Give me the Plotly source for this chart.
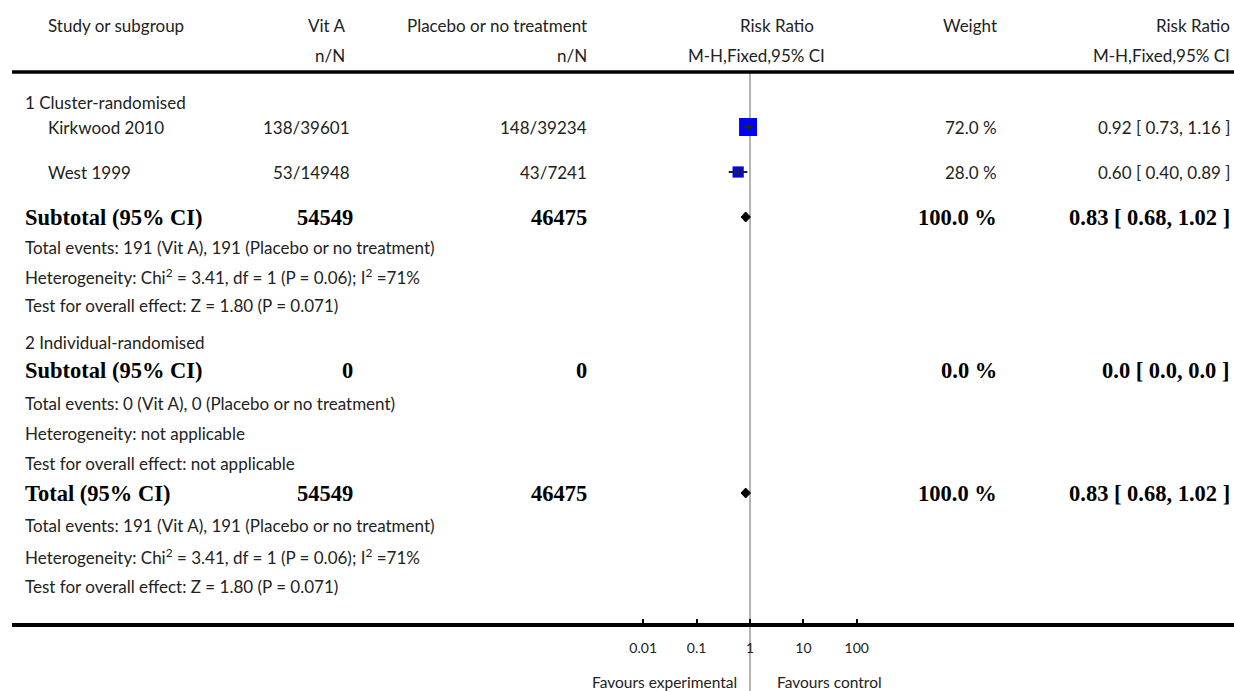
import math
import plotly.graph_objects as go

# ---------------- data ----------------
studies = ["Kirkwood 2010", "West 1999"]
vita_events = [138, 53]
vita_total = [39601, 14948]
ctrl_events = [148, 43]
ctrl_total = [39234, 7241]
study_rr = [0.92, 0.60]
study_lo = [0.73, 0.40]
study_hi = [1.16, 0.89]
study_weight = [72.0, 28.0]

subgroups = ["1 Cluster-randomised", "2 Individual-randomised"]
summary_labels = ["Subtotal (95% CI)", "Subtotal (95% CI)", "Total (95% CI)"]
summary_vita_n = [54549, 0, 54549]
summary_ctrl_n = [46475, 0, 46475]
summary_weight = [100.0, 0.0, 100.0]
summary_rr = [0.83, 0.0, 0.83]
summary_lo = [0.68, 0.0, 0.68]
summary_hi = [1.02, 0.0, 1.02]

notes_sub1 = ["Total events: 191 (Vit A), 191 (Placebo or no treatment)",
              "Heterogeneity: Chi<sup>2</sup> = 3.41, df = 1 (P = 0.06); I<sup>2</sup> =71%",
              "Test for overall effect: Z = 1.80 (P = 0.071)"]
notes_sub2 = ["Total events: 0 (Vit A), 0 (Placebo or no treatment)",
              "Heterogeneity: not applicable",
              "Test for overall effect: not applicable"]
notes_total = ["Total events: 191 (Vit A), 191 (Placebo or no treatment)",
               "Heterogeneity: Chi<sup>2</sup> = 3.41, df = 1 (P = 0.06); I<sup>2</sup> =71%",
               "Test for overall effect: Z = 1.80 (P = 0.071)"]

tick_vals = [0.01, 0.1, 1, 10, 100]
tick_labels = ["0.01", "0.1", "1", "10", "100"]
favours_left = "Favours experimental"
favours_right = "Favours control"

# ---------------- layout constants ----------------
W, H = 1234, 691
SANS = "Lato, 'Open Sans', sans-serif"
SERIF = "'Liberation Serif', 'DejaVu Serif', serif"
TXT = "#222222"
FS = 17
FB = 22.5

Y_HEAD1, Y_HEAD2 = 25, 55
Y_TOPLINE = 72
Y_GROUP = [102, 342]
Y_STUDY = [127, 172]
Y_SUMMARY = [217, 370, 493]
Y_NOTES = [[247, 276, 305], [403, 433, 463], [525, 556, 586]]
Y_AXIS = 625
Y_FAV = 682

X_LEFT_GROUP = 25
X_LEFT_STUDY = 48
X_VITA = 350
X_CTRL = 587
X_WEIGHT = 997
X_RR = 1230

PX_PER_DEC = 53.4
X_ONE = 750
x_lo = -X_ONE / PX_PER_DEC
x_hi = (W - X_ONE) / PX_PER_DEC

fig = go.Figure()
annotations = []


def txt(px, y, text, anchor="left", bold=False, size=None):
    annotations.append(dict(
        x=px / W, xref="paper", y=y, yref="y", text=text, showarrow=False,
        xanchor=anchor, yanchor="middle", borderpad=0, borderwidth=0,
        font=dict(family=SERIF if bold else SANS, size=size or (FB if bold else FS),
                  color="#000000" if bold else TXT, weight="bold" if bold else "normal"),
    ))


# headers
txt(48, Y_HEAD1, "Study or subgroup")
txt(345, Y_HEAD1, "Vit A", "right")
txt(345, Y_HEAD2, "n/N", "right")
txt(587, Y_HEAD1, "Placebo or no treatment", "right")
txt(587, Y_HEAD2, "n/N", "right")
txt(814, Y_HEAD1, "Risk Ratio", "right")
txt(825, Y_HEAD2, "M-H,Fixed,95% CI", "right")
txt(X_WEIGHT, Y_HEAD1, "Weight", "right")
txt(X_RR, Y_HEAD1, "Risk Ratio", "right")
txt(X_RR, Y_HEAD2, "M-H,Fixed,95% CI", "right")

# subgroup headings
for g, y in zip(subgroups, Y_GROUP):
    txt(X_LEFT_GROUP, y, g)

# studies
for i, s in enumerate(studies):
    y = Y_STUDY[i]
    txt(X_LEFT_STUDY, y, s)
    txt(X_VITA, y, f"{vita_events[i]}/{vita_total[i]}", "right")
    txt(X_CTRL, y, f"{ctrl_events[i]}/{ctrl_total[i]}", "right")
    txt(X_WEIGHT, y, f"{study_weight[i]:.1f} %", "right")
    txt(X_RR, y, f"{study_rr[i]:.2f} [ {study_lo[i]:.2f}, {study_hi[i]:.2f} ]", "right")


def fmt_ci(rr, lo, hi):
    if rr == 0:
        return f"{rr:.1f} [ {lo:.1f}, {hi:.1f} ]"
    return f"{rr:.2f} [ {lo:.2f}, {hi:.2f} ]"


# summaries
for i, lab in enumerate(summary_labels):
    y = Y_SUMMARY[i]
    txt(X_LEFT_GROUP, y, lab, bold=True)
    txt(353, y, str(summary_vita_n[i]), "right", bold=True)
    txt(X_CTRL, y, str(summary_ctrl_n[i]), "right", bold=True)
    txt(X_WEIGHT, y, f"{summary_weight[i]:.1f} %", "right", bold=True)
    txt(X_RR, y, fmt_ci(summary_rr[i], summary_lo[i], summary_hi[i]), "right", bold=True)

for notes, ys in zip([notes_sub1, notes_sub2, notes_total], Y_NOTES):
    for n, y in zip(notes, ys):
        txt(X_LEFT_GROUP, y, n)

# favours labels
txt(737, Y_FAV, favours_left, "right", size=15.5)
txt(777, Y_FAV, favours_right, "left", size=15.5)

# squares
sizes = [18 / math.sqrt(72) * math.sqrt(w) for w in study_weight]
fig.add_trace(go.Scatter(
    x=study_rr, y=Y_STUDY, mode="markers",
    marker=dict(symbol="square", size=sizes, color="#0000ff", opacity=1, line=dict(width=0)),
    hoverinfo="skip", showlegend=False))

# CI lines
for i in range(len(studies)):
    fig.add_trace(go.Scatter(
        x=[study_lo[i], study_hi[i]], y=[Y_STUDY[i], Y_STUDY[i]], mode="lines",
        line=dict(color="#222222", width=2), hoverinfo="skip", showlegend=False))
fig.add_trace(go.Scatter(
    x=study_rr, y=Y_STUDY, mode="markers",
    marker=dict(symbol="line-ns", size=6, opacity=1, line=dict(color="#222222", width=2)),
    hoverinfo="skip", showlegend=False))

# diamonds
for i in range(len(summary_labels)):
    if summary_rr[i] <= 0:
        continue
    y = Y_SUMMARY[i]
    fig.add_trace(go.Scatter(
        x=[summary_lo[i], summary_rr[i], summary_hi[i], summary_rr[i], summary_lo[i]],
        y=[y, y - 5, y, y + 5, y], mode="lines", fill="toself",
        fillcolor="#000000", line=dict(color="#000000", width=1),
        hoverinfo="skip", showlegend=False))

shapes = [
    dict(type="line", xref="paper", yref="y", x0=12 / W, x1=1, y0=Y_TOPLINE, y1=Y_TOPLINE,
         line=dict(color="#000000", width=3.5)),
    dict(type="line", xref="paper", yref="y", x0=12 / W, x1=1, y0=Y_AXIS, y1=Y_AXIS,
         line=dict(color="#000000", width=4)),
    dict(type="line", xref="x", yref="y", x0=1, x1=1, y0=Y_TOPLINE, y1=H,
         line=dict(color="#b4b4b4", width=2), layer="below"),
]

fig.update_layout(
    width=W, height=H, autosize=False,
    margin=dict(l=0, r=0, t=0, b=0, pad=0),
    paper_bgcolor="white", plot_bgcolor="white",
    showlegend=False,
    annotations=annotations, shapes=shapes,
    xaxis=dict(type="log", range=[x_lo, x_hi], domain=[0, 1], anchor="free",
               position=(H - Y_AXIS) / H,
               tickmode="array", tickvals=tick_vals, ticktext=tick_labels,
               ticks="inside", ticklen=6, tickwidth=2, tickcolor="#000000",
               tickfont=dict(family=SANS, size=14, color=TXT),
               ticklabelstandoff=13,
               showgrid=False, zeroline=False, showline=False, fixedrange=True),
    yaxis=dict(range=[H, 0], domain=[0, 1], visible=False, showgrid=False,
               zeroline=False, fixedrange=True),
)

fig.write_html("out.html", config={"displayModeBar": False})
